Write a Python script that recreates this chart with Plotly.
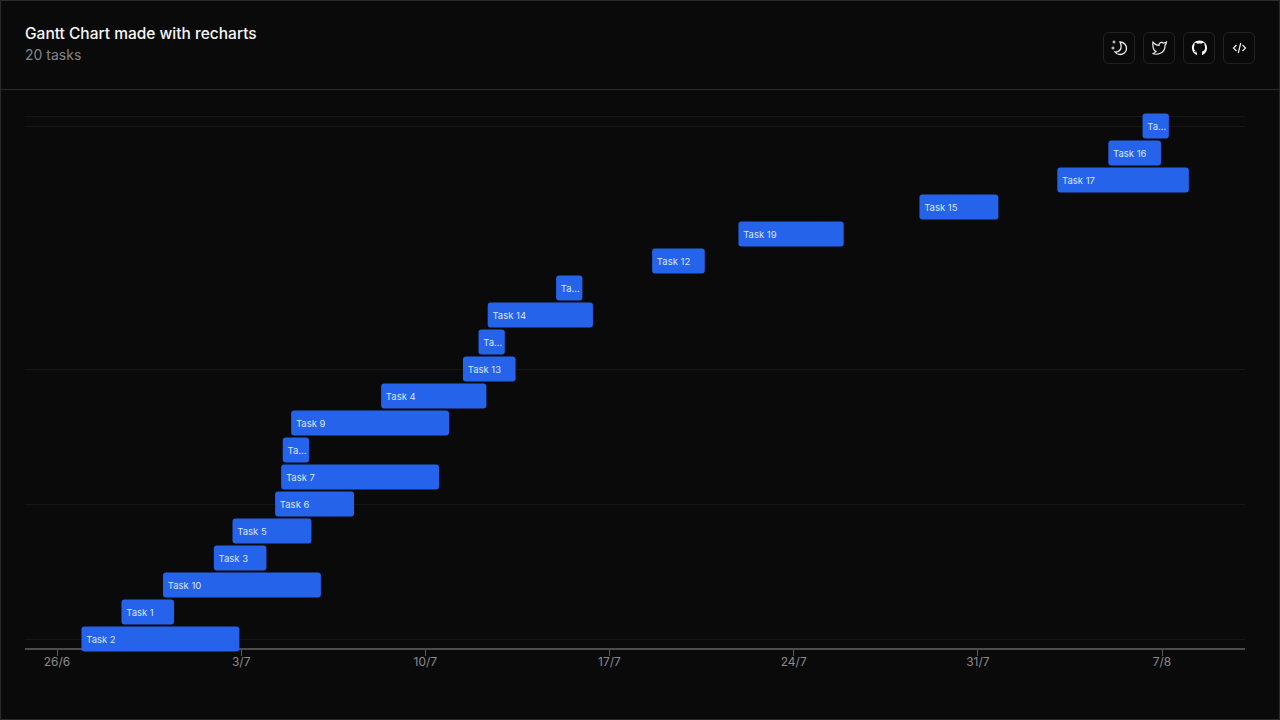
import plotly.graph_objects as go

labels = ["Task 2","Task 1","Task 10","Task 3","Task 5","Task 6","Task 7","Ta...","Task 9","Task 4",
          "Task 13","Ta...","Task 14","Ta...","Task 12","Task 19","Task 15","Task 17","Task 16","Ta..."]
rows = list(range(20))
# days since 26/6
starts = [0.93,2.45,4.03,5.96,6.67,8.29,8.52,8.58,8.90,12.32,15.43,16.02,16.37,18.97,22.62,25.90,32.78,38.02,39.96,41.26]
ends   = [6.93,4.45,10.03,7.96,9.67,11.29,14.52,9.58,14.90,16.32,17.43,17.02,20.37,19.97,24.62,29.90,35.78,43.02,41.96,42.26]
durations = [e - s for s, e in zip(starts, ends)]
tick_days = [0,7,14,21,28,35,42]
tick_labels = ["26/6","3/7","10/7","17/7","24/7","31/7","7/8"]
grid_rows = [0,5,10,19,19.37]

W, H = 1280, 720
L, R, T, B = 25, 1245, 113, 652
AXIS_Y = 649
FONT = "Inter, Noto Sans, sans-serif"

def px(x): return (x - L) / (R - L)
def py(y): return (B - y) / (B - T)

def to_path(cmds):
    out = []
    for c in cmds:
        vals = c[1:]
        coords = []
        for i in range(0, len(vals), 2):
            coords.append(f"{px(vals[i]):.5f},{py(vals[i+1]):.5f}")
        out.append(c[0] + " ".join(coords))
    return " ".join(out)

def rr(x0, y0, x1, y1, r):
    k = r * 0.45
    pts = [("M", x0 + r, y0), ("L", x1 - r, y0), ("C", x1 - k, y0, x1, y0 + k, x1, y0 + r),
           ("L", x1, y1 - r), ("C", x1, y1 - k, x1 - k, y1, x1 - r, y1),
           ("L", x0 + r, y1), ("C", x0 + k, y1, x0, y1 - k, x0, y1 - r),
           ("L", x0, y0 + r), ("C", x0, y0 + k, x0 + k, y0, x0 + r, y0)]
    return to_path(pts) + "Z"

def icon(cmds, cx, cy, fill=None, color="#f0f0f0", width=1.2):
    moved = []
    for c in cmds:
        v = list(c[1:])
        moved.append((c[0], *[v[i] + (cx if i % 2 == 0 else cy) for i in range(len(v))]))
    d = dict(type="path", xref="paper", yref="paper", path=to_path(moved), layer="above",
             line=dict(color=color, width=width))
    if fill:
        d["fillcolor"] = fill
        d["line"] = dict(width=0)
    return d

shapes = []
shapes.append(dict(type="rect", xref="paper", yref="paper", x0=px(0.5), x1=px(1279.5), y0=py(0.5), y1=py(719.5),
                   line=dict(color="#2b2b2b", width=1), layer="below"))
shapes.append(dict(type="line", xref="paper", yref="paper", x0=px(0), x1=px(1280), y0=py(89.5), y1=py(89.5),
                   line=dict(color="#2b2b2b", width=1), layer="below"))
for cx in (1119, 1159, 1199, 1239):
    shapes.append(dict(type="path", xref="paper", yref="paper",
                       path=rr(cx - 15.5, 32.5, cx + 15.5, 63.5, 5),
                       line=dict(color="#232323", width=1), fillcolor="#0a0a0a", layer="below"))

# moon and stars
moon = [("M", 0, -6), ("C", 4, -6, 6.5, -3, 6.5, 0.5), ("C", 6.5, 4, 3.5, 6.5, 0, 6.5),
        ("C", -2, 6.5, -4, 5.5, -5, 4), ("C", -0.5, 4.5, 3, 0.5, 0, -6), ("Z",)]
shapes.append(icon(moon, 1120, 48, width=1.3))
shapes.append(icon([("M", -6, -7.5), ("L", -6, -4.5), ("M", -7.5, -6), ("L", -4.5, -6)], 1120, 48, width=1))
shapes.append(icon([("M", -7, -1.5), ("L", -7, 1.5), ("M", -8.5, 0), ("L", -5.5, 0)], 1120, 48, width=1))
# twitter
bird = [("M", 7, -6), ("C", 6, -5.3, 5, -5, 4, -4.9), ("C", 2.5, -6.5, -1, -5.5, -0.5, -2.5),
        ("C", -3, -2.5, -5, -3.8, -6.5, -5.8), ("C", -7, -3, -6.5, 3, -3.5, 3.4),
        ("C", -4.5, 4.8, -5.5, 5.5, -7, 5.5), ("C", -2, 7.5, 6, 5, 5.5, -2.8), ("C", 6.3, -3.5, 7, -4.8, 7, -6), ("Z",)]
shapes.append(icon(bird, 1159.5, 48, width=1.2))
# github
gh = [("M", 0, -7.5), ("C", -4.3, -7.5, -7.6, -4.1, -7.6, 0), ("C", -7.6, 3.3, -5.5, 6.1, -2.5, 7.1),
      ("L", -2.5, 4.5), ("C", -4.5, 4.9, -5, 3.6, -5.5, 2.8), ("C", -4.5, 3, -4, 3.8, -2.4, 3.7),
      ("C", -4.8, 3, -5.8, 1.5, -5.5, -0.8), ("C", -5.5, -2, -5.3, -2.4, -4.8, -3), ("C", -5.1, -3.9, -5, -4.8, -4.6, -5.3),
      ("C", -3.6, -5.3, -2.8, -4.8, -2, -4.2), ("C", -0.7, -4.6, 0.7, -4.6, 2, -4.2), ("C", 2.8, -4.8, 3.6, -5.3, 4.6, -5.3),
      ("C", 5, -4.8, 5.1, -3.9, 4.8, -3), ("C", 5.3, -2.4, 5.5, -2, 5.5, -0.8), ("C", 5.8, 1.5, 4.8, 3, 2.4, 3.7),
      ("C", 2.9, 4.1, 2.5, 5, 2.5, 5.5), ("L", 2.5, 7.1), ("C", 5.5, 6.1, 7.6, 3.3, 7.6, 0), ("C", 7.6, -4.1, 4.3, -7.5, 0, -7.5), ("Z",)]
shapes.append(icon(gh, 1199.5, 48, fill="#f5f5f5"))
gh_inner = [("M", 0, -3.6), ("C", 3, -3.6, 4.2, -2, 4.2, -0.3), ("C", 4.2, 1.6, 2.6, 3, 0, 3),
            ("C", -2.6, 3, -4.2, 1.6, -4.2, -0.3), ("C", -4.2, -2, -3, -3.6, 0, -3.6), ("Z",)]
shapes.append(icon(gh_inner, 1199.5, 48, fill="#0a0a0a"))
# code
code = [("M", -3, -3), ("L", -6, 0), ("L", -3, 3), ("M", 3, -3), ("L", 6, 0), ("L", 3, 3), ("M", 1.2, -5), ("L", -1.2, 5)]
shapes.append(icon(code, 1239.5, 48, width=1.2))

fig = go.Figure(go.Bar(
    y=rows, x=durations, base=starts, orientation="h", width=25 / 27,
    marker=dict(color="#2563eb", line=dict(width=0)),
    text=labels, texttemplate="\u2009%{text}", textposition="inside", insidetextanchor="start", textangle=0,
    constraintext="none", insidetextfont=dict(family=FONT, size=9.5, color="#dbe6fb"),
    cliponaxis=False, hoverinfo="text",
))

fig.update_layout(
    width=W, height=H, margin=dict(l=L, r=W - R, t=T, b=H - B, pad=0, autoexpand=False),
    paper_bgcolor="#0a0a0a", plot_bgcolor="#0a0a0a", showlegend=False, barcornerradius=3,
    font=dict(family=FONT),
    xaxis=dict(range=[(L - 57) / 26.31, (R - 57) / 26.31], tickmode="array", tickvals=tick_days, ticktext=tick_labels,
               anchor="free", position=(B - AXIS_Y) / (B - T),
               showgrid=False, zeroline=False, showline=True, linecolor="#4d4d4d", linewidth=2,
               ticks="outside", ticklen=6, tickcolor="#5c5c5c", tickwidth=1, layer="below traces",
               ticklabelstandoff=-4,
               tickfont=dict(family=FONT, size=12, color="#8a8a8a")),
    yaxis=dict(range=[(639 - B) / 27, (639 - T) / 27], tickmode="array", tickvals=grid_rows, showticklabels=False,
               showgrid=True, gridcolor="#161616", gridwidth=1, zeroline=False, showline=False, ticks="", layer="below traces"),
    shapes=shapes,
    annotations=[
        dict(text="Gantt Chart made with recharts", xref="paper", yref="paper", x=px(23), y=py(33), xanchor="left", yanchor="middle",
             showarrow=False, font=dict(family=FONT, size=15.5, weight=500, color="#f7f7f7")),
        dict(text="20 tasks", xref="paper", yref="paper", x=px(23), y=py(54.5), xanchor="left", yanchor="middle",
             showarrow=False, font=dict(family=FONT, size=14, color="#858585")),
    ],
)
fig.write_html("out.html", config=dict(displayModeBar=False),
               post_script="document.body.style.margin='0';document.body.style.background='#0a0a0a';")
